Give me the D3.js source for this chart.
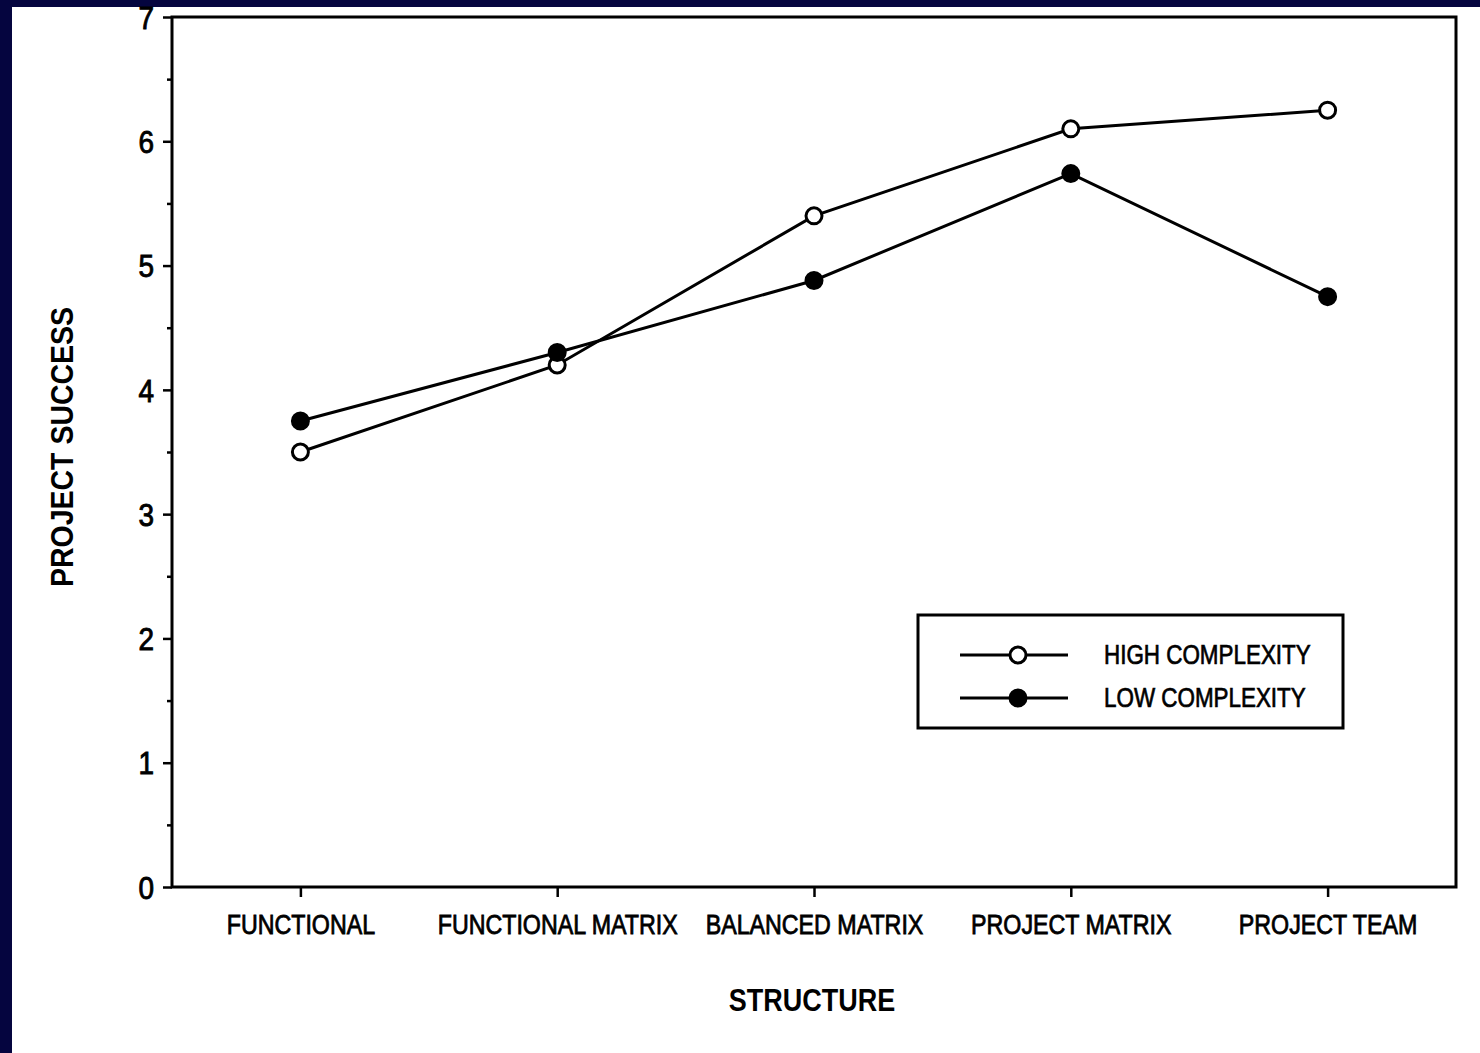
<!DOCTYPE html>
<html><head><meta charset="utf-8">
<script src="https://cdn.jsdelivr.net/npm/d3@7"></script>
<style>
html,body{margin:0;padding:0;background:#05053f;}
svg{display:block;}
text{font-family:"Liberation Sans",Arial,sans-serif;fill:#000;}
</style></head><body>
<svg id="chart" width="1480" height="1053"></svg>
<script>
const categories = ["FUNCTIONAL","FUNCTIONAL MATRIX","BALANCED MATRIX","PROJECT MATRIX","PROJECT TEAM"];
const highComplexity = [3.5, 4.2, 5.4, 6.1, 6.25];
const lowComplexity = [3.75, 4.3, 4.88, 5.74, 4.75];
const yTicks = [0,1,2,3,4,5,6,7];
const yMinorTicks = [0.5,1.5,2.5,3.5,4.5,5.5,6.5];
const seriesNames = ["HIGH COMPLEXITY","LOW COMPLEXITY"];
const xTitle = "STRUCTURE";
const yTitle = "PROJECT SUCCESS";

(function(){
const svg = d3.select("#chart");
svg.append("rect").attr("x",0).attr("y",0).attr("width",1480).attr("height",1053).attr("fill","#05053f");
svg.append("rect").attr("x",12).attr("y",7).attr("width",1468).attr("height",1046).attr("fill","#fff");

const pl=172, pr=1456, pt=17, pb=887;
const x = d3.scalePoint().domain(categories).range([pl,pr]).padding(0.5);
const y = d3.scaleLinear().domain([0,7]).range([pb,pt]);

function condense(sel, f){
  sel.each(function(){
    const w = this.getComputedTextLength();
    d3.select(this).attr("textLength", w*f).attr("lengthAdjust","spacingAndGlyphs");
  });
}
function heavy(sel, w){ sel.attr("stroke","#000").attr("stroke-width",w); }

svg.append("rect").attr("x",pl).attr("y",pt).attr("width",pr-pl).attr("height",pb-pt)
  .attr("fill","none").attr("stroke","#000").attr("stroke-width",3);

const yAxis = d3.axisLeft(y).tickValues(yTicks).tickSize(9).tickPadding(9).tickFormat(d3.format("d"));
const gy = svg.append("g").attr("transform",`translate(${pl},0)`).call(yAxis);
gy.select(".domain").remove();
gy.selectAll(".tick line").attr("stroke","#000").attr("stroke-width",2.5);
gy.selectAll(".tick text").style("font-size","31px").style("font-family","Liberation Sans, Arial, sans-serif").attr("fill","#000").attr("dy","0.36em");
condense(gy.selectAll(".tick text"),0.9);
heavy(gy.selectAll(".tick text"),0.9);
const yAxisMinor = d3.axisLeft(y).tickValues(yMinorTicks).tickSize(5).tickFormat("");
const gym = svg.append("g").attr("transform",`translate(${pl},0)`).call(yAxisMinor);
gym.select(".domain").remove();
gym.selectAll(".tick line").attr("stroke","#000").attr("stroke-width",2.5);

const xAxis = d3.axisBottom(x).tickSize(10).tickPadding(18);
const gx = svg.append("g").attr("transform",`translate(0,${pb})`).call(xAxis);
gx.select(".domain").remove();
gx.selectAll(".tick line").attr("stroke","#000").attr("stroke-width",2.5);
gx.selectAll(".tick text").style("font-size","27px").style("font-family","Liberation Sans, Arial, sans-serif").attr("fill","#000").attr("dy","0.71em");
condense(gx.selectAll(".tick text"),0.86);
heavy(gx.selectAll(".tick text"),0.8);

const xt = svg.append("text").attr("x",812).attr("y",1011).attr("text-anchor","middle")
  .style("font-size","31px").style("font-weight","bold").text(xTitle);
condense(xt,0.87);
const yt = svg.append("text").attr("transform","translate(73,447) rotate(-90)").attr("text-anchor","middle")
  .style("font-size","32px").style("font-weight","bold").text(yTitle);
condense(yt,0.89);

const line = d3.line().x((d,i)=>x(categories[i])).y(d=>y(d));
const series = [
  {name:seriesNames[0], values:highComplexity, fill:"#fff"},
  {name:seriesNames[1], values:lowComplexity, fill:"#000"}
];
series.forEach(s=>{
  svg.append("path").datum(s.values).attr("d",line).attr("fill","none").attr("stroke","#000").attr("stroke-width",3);
});
series.forEach(s=>{
  svg.append("g").selectAll("circle").data(s.values).join("circle")
    .attr("cx",(d,i)=>x(categories[i])).attr("cy",d=>y(d)).attr("r",8)
    .attr("fill",s.fill).attr("stroke","#000").attr("stroke-width",3);
});

const lg = svg.append("g");
lg.append("rect").attr("x",918).attr("y",615).attr("width",425).attr("height",113)
  .attr("fill","#fff").attr("stroke","#000").attr("stroke-width",3);
series.forEach((s,i)=>{
  const ly = 655 + i*43;
  lg.append("line").attr("x1",960).attr("x2",1068).attr("y1",ly).attr("y2",ly).attr("stroke","#000").attr("stroke-width",3);
  lg.append("circle").attr("cx",1018).attr("cy",ly).attr("r",8).attr("fill",s.fill).attr("stroke","#000").attr("stroke-width",3);
  const t = lg.append("text").attr("x",1104).attr("y",ly+9).style("font-size","27px").text(s.name);
  condense(t,0.83);
  heavy(t,0.7);
});
})();
</script>
</body></html>
